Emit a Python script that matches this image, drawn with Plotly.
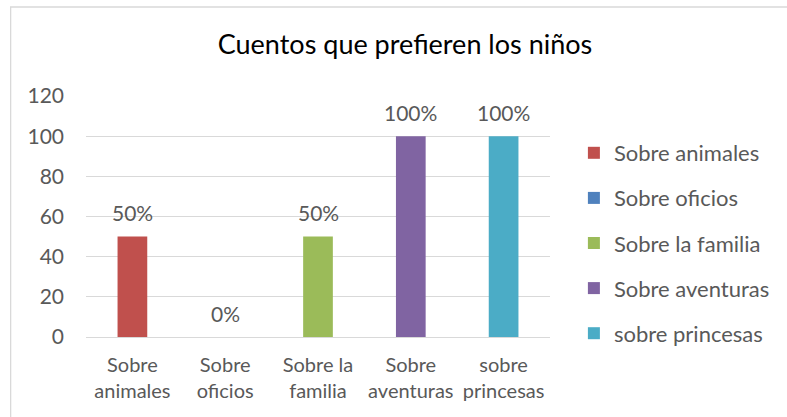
import plotly.graph_objects as go

categories = ["Sobre animales", "Sobre oficios", "Sobre la familia", "Sobre aventuras", "sobre princesas"]
tick_labels = ["Sobre<br>animales", "Sobre<br>oficios", "Sobre la<br>familia", "Sobre<br>aventuras", "sobre<br>princesas"]
values = [50, 0, 50, 100, 100]
data_labels = ["50%", "0%", "50%", "100%", "100%"]
colors = ["#C0504D", "#4F81BD", "#9BBB59", "#8064A2", "#4BACC6"]

FONT = "Lato"
GRAY = "#595959"
W, H = 787, 417
ML, MR, MT, MB = 86, 233, 96, 80

fig = go.Figure()
for i, (cat, val, col) in enumerate(zip(categories, values, colors)):
    fig.add_trace(go.Bar(
        x=[cat], y=[val], name=cat, marker=dict(color=col, line=dict(width=0)),
        width=0.32, legendgroup=cat, showlegend=True, hoverinfo="skip",
    ))

for cat, val, lab in zip(categories, values, data_labels):
    fig.add_annotation(x=cat, y=val, text=lab, showarrow=False, yshift=24,
                       yanchor="middle", font=dict(family=FONT, size=21, color=GRAY))

pw = W - ML - MR
ph = H - MT - MB
bx = (10 - ML) / pw
by = (H - MB - 7) / ph
fig.add_shape(type="rect", xref="paper", yref="paper",
              x0=bx, x1=(W + 20 - ML) / pw, y0=-(MB + 20) / ph, y1=by,
              line=dict(color="#D9D9D9", width=1.3), fillcolor="rgba(0,0,0,0)", layer="below")

fig.update_layout(
    width=W, height=H,
    margin=dict(l=ML, r=MR, t=MT, b=MB),
    paper_bgcolor="white", plot_bgcolor="white",
    barmode="overlay",
    font=dict(family=FONT, color=GRAY, size=20),
    title=dict(text="Cuentos que prefieren los niños", x=405 / W, xanchor="center",
               y=1 - 45 / H, yanchor="middle", yref="container",
               font=dict(family=FONT, size=27, color="#000000")),
    xaxis=dict(tickmode="array", tickvals=categories, ticktext=tick_labels,
               showgrid=False, showline=False, zeroline=False,
               tickfont=dict(size=20, color=GRAY), ticklabelstandoff=14),
    yaxis=dict(range=[0, 120], tickvals=[0, 20, 40, 60, 80, 100, 120],
               showgrid=True, gridcolor="#D9D9D9", gridwidth=1,
               zeroline=True, zerolinecolor="#D9D9D9", zerolinewidth=1,
               showline=False, tickfont=dict(size=21, color=GRAY), ticklabelstandoff=21),
    legend=dict(x=1.0515, y=(337 - 243) / ph, xanchor="left", yanchor="middle",
                font=dict(family=FONT, size=22, color=GRAY),
                tracegroupgap=13.5, itemclick=False, bgcolor="rgba(0,0,0,0)"),
    showlegend=True,
)

fig.write_html("out.html", config={"displayModeBar": False},
               post_script="document.body.style.margin='0';document.body.style.overflow='hidden';")
